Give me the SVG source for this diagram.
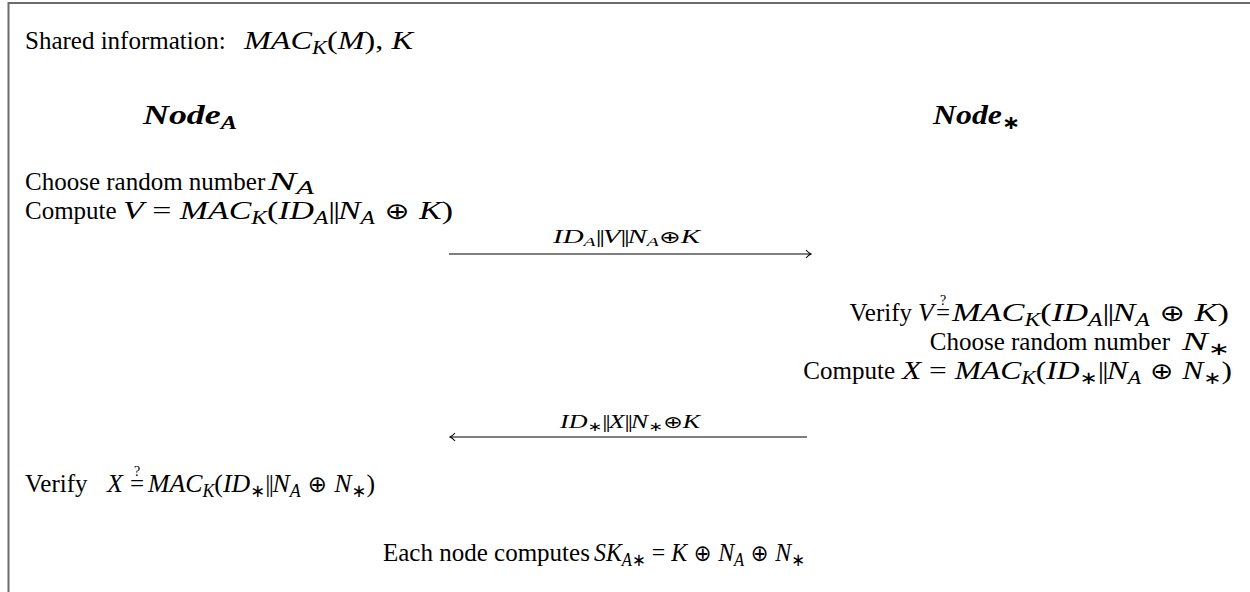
<svg xmlns="http://www.w3.org/2000/svg" width="1250" height="592" viewBox="0 0 1250 592">
  <style>
    text { font-family: "Liberation Serif", "DejaVu Serif", serif; fill: #000; }
    .p { font-size: 25px; }
    .m { font-size: 26px; }
    .i { font-style: italic; }
    .sub { font-size: 18px; }
    .op { font-family: "DejaVu Sans", sans-serif; font-style: normal; }
    .ox { font-size: 23px; }
    .bar { letter-spacing: -1.5px; }
    .lbl { font-size: 19px; }
    .ls { font-size: 13px; }
    .lo { font-size: 17px; }
    .hd { font-size: 28px; font-weight: bold; font-style: italic; }
    .hs { font-size: 19px; }
    .q { font-size: 14px; fill: #000; }
    .frame { stroke: #6b6b6b; stroke-width: 2; fill: none; }
    .msg { stroke: #000; stroke-width: 1.2; fill: none; }
  </style>
  <defs>
    <marker id="ah" viewBox="-6 -5 7 10" refX="0" refY="0" markerWidth="7" markerHeight="10" markerUnits="userSpaceOnUse" orient="auto-start-reverse">
      <path d="M-5,-4 Q-2,-0.6 0,0 Q-2,0.6 -5,4" stroke="#000" stroke-width="1.1" fill="none"/>
    </marker>
  </defs>

  <rect width="1250" height="592" fill="#fff"/>
  <!-- frame: top and left edges -->
  <path class="frame" d="M8.5,592 V3 H1250"/>

  <!-- shared secret line -->
  <g id="shared">
    <text class="p" x="25" y="49">Shared information:</text>
    <text class="m" x="244" y="49" textLength="169" lengthAdjust="spacingAndGlyphs"><tspan class="i">MAC</tspan><tspan class="i sub" dy="5">K</tspan><tspan dy="-5">(</tspan><tspan class="i">M</tspan>), <tspan class="i">K</tspan></text>
  </g>

  <!-- initiator -->
  <g id="node-a">
    <text class="hd" x="143" y="124" textLength="94" lengthAdjust="spacingAndGlyphs">Node<tspan class="hs" dy="5">A</tspan></text>
    <text class="p" x="25" y="190">Choose random number</text>
    <text class="m" x="268" y="190" textLength="46" lengthAdjust="spacingAndGlyphs"><tspan class="i">N</tspan><tspan class="i sub" dy="4">A</tspan></text>
    <text class="p" x="25" y="219">Compute</text>
    <text class="m" x="123" y="219" textLength="330" lengthAdjust="spacingAndGlyphs"><tspan class="i">V</tspan> = <tspan class="i">MAC</tspan><tspan class="i sub" dy="5">K</tspan><tspan dy="-5">(</tspan><tspan class="i">ID</tspan><tspan class="i sub" dy="5">A</tspan><tspan class="bar" dy="-5">||</tspan><tspan class="i">N</tspan><tspan class="i sub" dy="5">A</tspan><tspan class="op ox" dy="-5"> ⊕ </tspan><tspan class="i">K</tspan>)</text>
    <text class="p" x="25" y="492">Verify</text>
    <text class="m i" x="107" y="492">X</text>
    <text class="p" x="137" y="492" text-anchor="middle">=</text>
    <text class="q" x="137" y="476" text-anchor="middle">?</text>
    <text class="m" x="148" y="492" textLength="227" lengthAdjust="spacingAndGlyphs"><tspan class="i">MAC</tspan><tspan class="i sub" dy="5">K</tspan><tspan dy="-5">(</tspan><tspan class="i">ID</tspan><tspan class="op sub" dy="5">∗</tspan><tspan class="bar" dy="-5">||</tspan><tspan class="i">N</tspan><tspan class="i sub" dy="5">A</tspan><tspan class="op ox" dy="-5"> ⊕ </tspan><tspan class="i">N</tspan><tspan class="op sub" dy="5">∗</tspan><tspan dy="-5">)</tspan></text>
  </g>

  <!-- responder -->
  <g id="node-star">
    <text class="hd" x="933" y="124" textLength="87" lengthAdjust="spacingAndGlyphs">Node<tspan class="op hs" dy="5">∗</tspan></text>
    <text class="p" x="912" y="321" text-anchor="end">Verify</text>
    <text class="m i" x="918" y="321">V</text>
    <text class="p" x="943" y="321" text-anchor="middle">=</text>
    <text class="q" x="943" y="305" text-anchor="middle">?</text>
    <text class="m" x="952" y="321" textLength="277" lengthAdjust="spacingAndGlyphs"><tspan class="i">MAC</tspan><tspan class="i sub" dy="5">K</tspan><tspan dy="-5">(</tspan><tspan class="i">ID</tspan><tspan class="i sub" dy="5">A</tspan><tspan class="bar" dy="-5">||</tspan><tspan class="i">N</tspan><tspan class="i sub" dy="5">A</tspan><tspan class="op ox" dy="-5"> ⊕ </tspan><tspan class="i">K</tspan>)</text>
    <text class="p" x="1170" y="350" text-anchor="end">Choose random number</text>
    <text class="m" x="1182" y="350" textLength="48" lengthAdjust="spacingAndGlyphs"><tspan class="i">N</tspan><tspan class="op sub" dy="5">∗</tspan></text>
    <text class="p" x="895" y="379" text-anchor="end">Compute</text>
    <text class="m" x="902" y="379" textLength="330" lengthAdjust="spacingAndGlyphs"><tspan class="i">X</tspan> = <tspan class="i">MAC</tspan><tspan class="i sub" dy="5">K</tspan><tspan dy="-5">(</tspan><tspan class="i">ID</tspan><tspan class="op sub" dy="5">∗</tspan><tspan class="bar" dy="-5">||</tspan><tspan class="i">N</tspan><tspan class="i sub" dy="5">A</tspan><tspan class="op ox" dy="-5"> ⊕ </tspan><tspan class="i">N</tspan><tspan class="op sub" dy="5">∗</tspan><tspan dy="-5">)</tspan></text>
  </g>

  <!-- messages -->
  <g id="connectors">
    <line class="msg" x1="449" y1="254" x2="811" y2="254" marker-end="url(#ah)"/>
    <text class="lbl" x="553" y="243" textLength="147" lengthAdjust="spacingAndGlyphs"><tspan class="i">ID</tspan><tspan class="i ls" dy="3">A</tspan><tspan class="bar" dy="-3">||</tspan><tspan class="i">V</tspan><tspan class="bar">||</tspan><tspan class="i">N</tspan><tspan class="i ls" dy="3">A</tspan><tspan class="op lo" dy="-3">⊕</tspan><tspan class="i">K</tspan></text>
    <line class="msg" x1="450" y1="437" x2="807" y2="437" marker-start="url(#ah)"/>
    <text class="lbl" x="560" y="428" textLength="140" lengthAdjust="spacingAndGlyphs"><tspan class="i">ID</tspan><tspan class="op ls" dy="3">∗</tspan><tspan class="bar" dy="-3">||</tspan><tspan class="i">X</tspan><tspan class="bar">||</tspan><tspan class="i">N</tspan><tspan class="op ls" dy="3">∗</tspan><tspan class="op lo" dy="-3">⊕</tspan><tspan class="i">K</tspan></text>
  </g>

  <!-- session key derivation -->
  <g id="session-key">
    <text class="p" x="383" y="561">Each node computes</text>
    <text class="m" x="594" y="561" textLength="211" lengthAdjust="spacingAndGlyphs"><tspan class="i">SK</tspan><tspan class="i sub" dy="5">A</tspan><tspan class="op sub">∗</tspan><tspan dy="-5"> = </tspan><tspan class="i">K</tspan><tspan class="op ox"> ⊕ </tspan><tspan class="i">N</tspan><tspan class="i sub" dy="5">A</tspan><tspan class="op ox" dy="-5"> ⊕ </tspan><tspan class="i">N</tspan><tspan class="op sub" dy="5">∗</tspan></text>
  </g>
</svg>
